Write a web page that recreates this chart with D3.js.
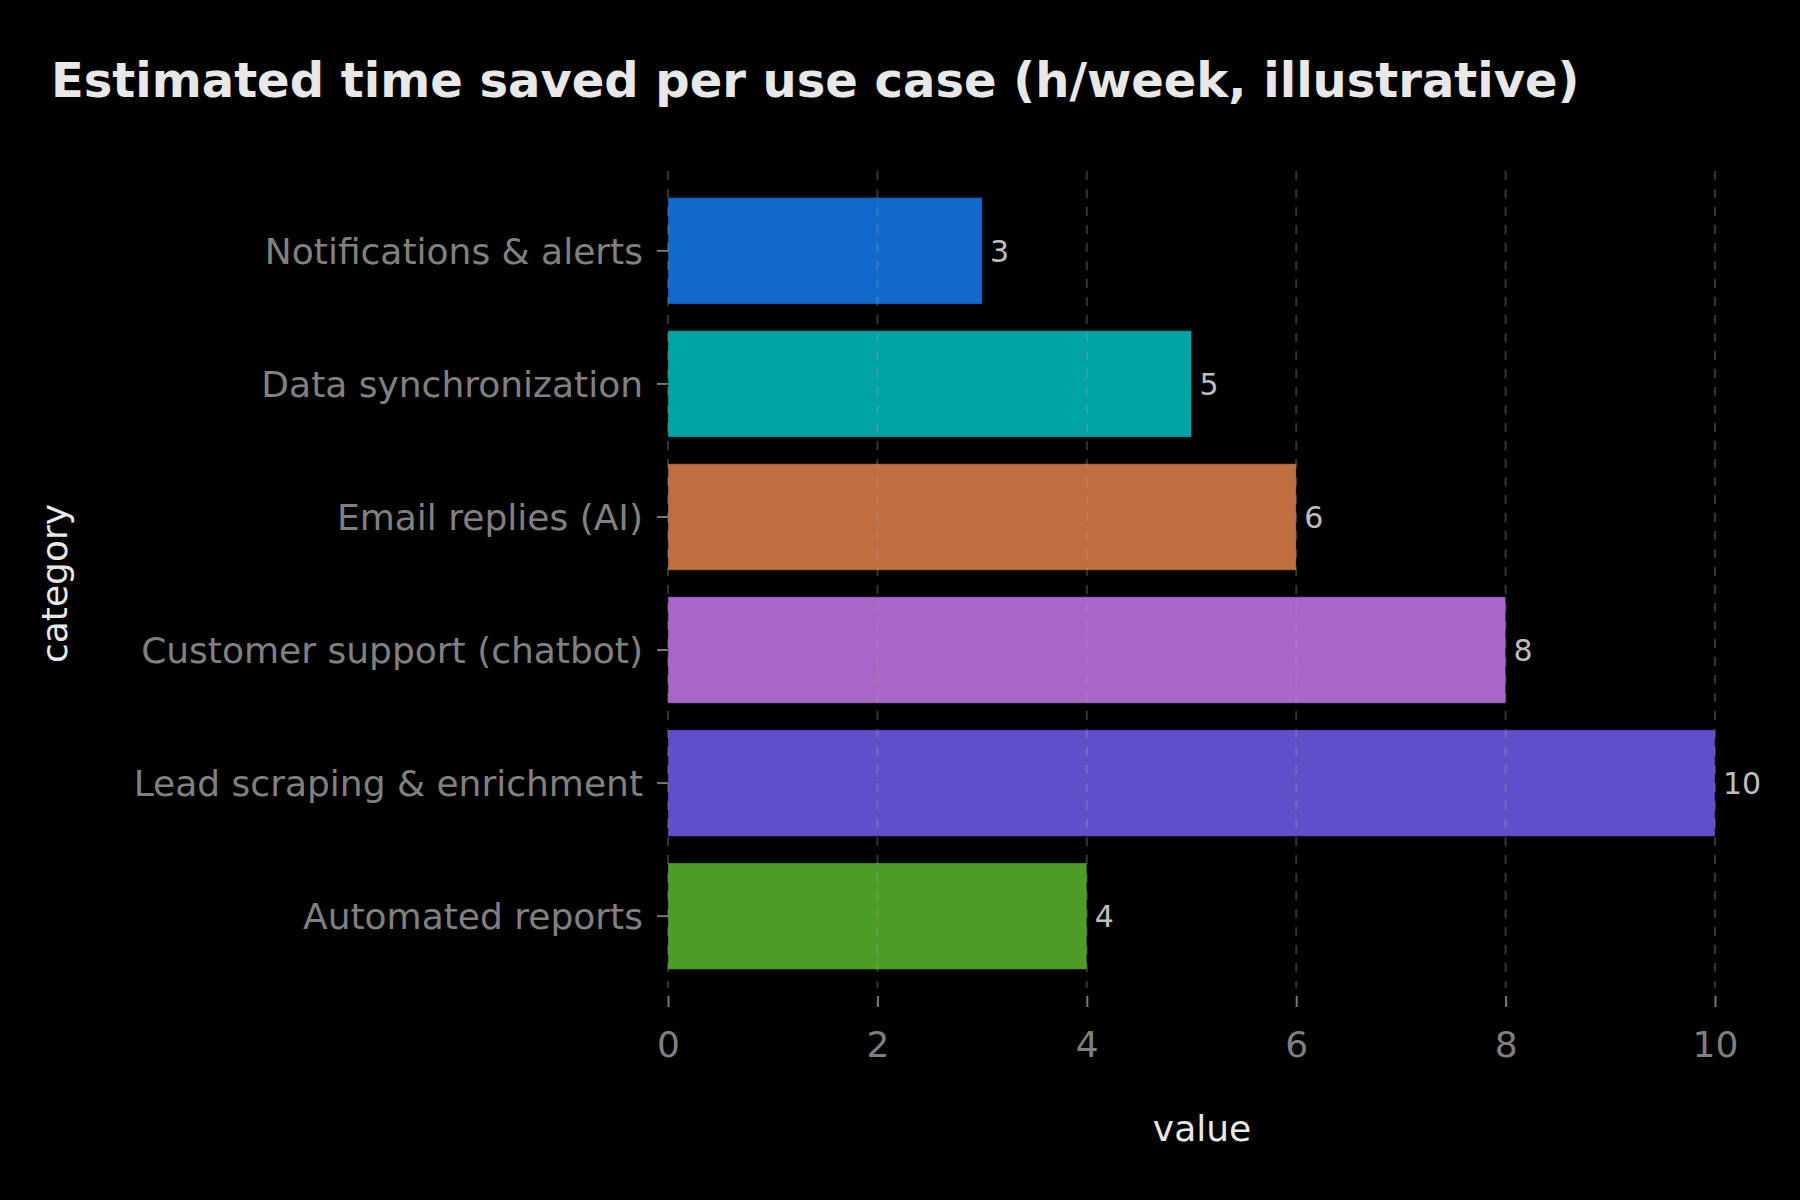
<!DOCTYPE html>
<html>
<head>
<meta charset="utf-8">
<title>Estimated time saved per use case</title>
<script src="https://cdn.jsdelivr.net/npm/d3@7"></script>
<style>
  body { margin: 0; background: #000; }
  text { font-family: "DejaVu Sans", sans-serif; }
</style>
</head>
<body>
<div id="chart"></div>
<script>
// data, top to bottom as drawn
const categories = ["Notifications & alerts", "Data synchronization", "Email replies (AI)",
                    "Customer support (chatbot)", "Lead scraping & enrichment", "Automated reports"];
const values = [3, 5, 6, 8, 10, 4];
const barColors = ["#1169cc", "#00a3a3", "#c06d3f", "#a866c8", "#5f50c9", "#4c9c27"];
const xTicks = [0, 2, 4, 6, 8, 10];

const data = categories.map((c, i) => ({ cat: c, value: values[i], color: barColors[i] }));

const width = 1800, height = 1200;
const plot = { left: 668, right: 1715, top: 171, bottom: 996 };

const svg = d3.select("#chart")
  .append("svg")
  .attr("width", width)
  .attr("height", height)
  .style("background", "#000");

const x = d3.scaleLinear()
  .domain([0, 10])
  .range([plot.left, plot.right]);

const y = d3.scaleBand()
  .domain(categories)
  .range([plot.top, plot.bottom])
  .paddingInner(0.2)
  .paddingOuter(0.2);

// title
svg.append("text")
  .attr("x", 51)
  .attr("y", 97)
  .attr("fill", "#e8e8e8")
  .style("font-size", "48px")
  .style("font-weight", "bold")
  .text("Estimated time saved per use case (h/week, illustrative)");

// bars
svg.append("g")
  .selectAll("rect")
  .data(data)
  .enter().append("rect")
    .attr("x", x(0))
    .attr("y", d => y(d.cat))
    .attr("width", d => x(d.value) - x(0))
    .attr("height", y.bandwidth())
    .attr("fill", d => d.color)
    .attr("stroke", "rgba(0,0,0,0.35)")
    .attr("stroke-width", 1);

// vertical grid, drawn over the bars
svg.append("g")
  .selectAll("line")
  .data(xTicks)
  .enter().append("line")
    .attr("x1", d => x(d)).attr("x2", d => x(d))
    .attr("y1", plot.top).attr("y2", plot.bottom - 8)
    .attr("stroke", "#aaaaaa")
    .attr("stroke-opacity", 0.3)
    .attr("stroke-width", 2)
    .attr("stroke-dasharray", "9,9");

// x axis
const xAxis = svg.append("g")
  .attr("transform", "translate(0," + plot.bottom + ")")
  .call(d3.axisBottom(x).tickValues(xTicks).tickFormat(d3.format("d")).tickSize(11).tickPadding(24));
xAxis.select(".domain").remove();
xAxis.selectAll(".tick line").attr("stroke", "#777").attr("stroke-width", 2);
xAxis.selectAll(".tick text")
  .attr("fill", "#7f7f7f")
  .style("font-size", "36px");

// y axis
const yAxis = svg.append("g")
  .attr("transform", "translate(" + plot.left + ",0)")
  .call(d3.axisLeft(y).tickSize(11).tickPadding(14));
yAxis.select(".domain").remove();
yAxis.selectAll(".tick line").attr("stroke", "#777").attr("stroke-width", 2);
yAxis.selectAll(".tick text")
  .attr("fill", "#808080")
  .attr("dy", "0.37em")
  .style("font-size", "36px");

// value labels
svg.append("g")
  .selectAll("text")
  .data(data)
  .enter().append("text")
    .attr("x", d => x(d.value) + 8)
    .attr("y", d => y(d.cat) + y.bandwidth() / 2)
    .attr("dy", "0.36em")
    .attr("fill", "#bdbdbd")
    .style("font-size", "30px")
    .text(d => d.value);

// axis titles
svg.append("text")
  .attr("x", 1202)
  .attr("y", 1141)
  .attr("text-anchor", "middle")
  .attr("fill", "#e8e8e8")
  .style("font-size", "36px")
  .text("value");

svg.append("text")
  .attr("transform", "translate(67," + ((plot.top + plot.bottom) / 2) + ")rotate(-90)")
  .attr("text-anchor", "middle")
  .attr("fill", "#e8e8e8")
  .style("font-size", "36px")
  .text("category");
</script>
</body>
</html>
